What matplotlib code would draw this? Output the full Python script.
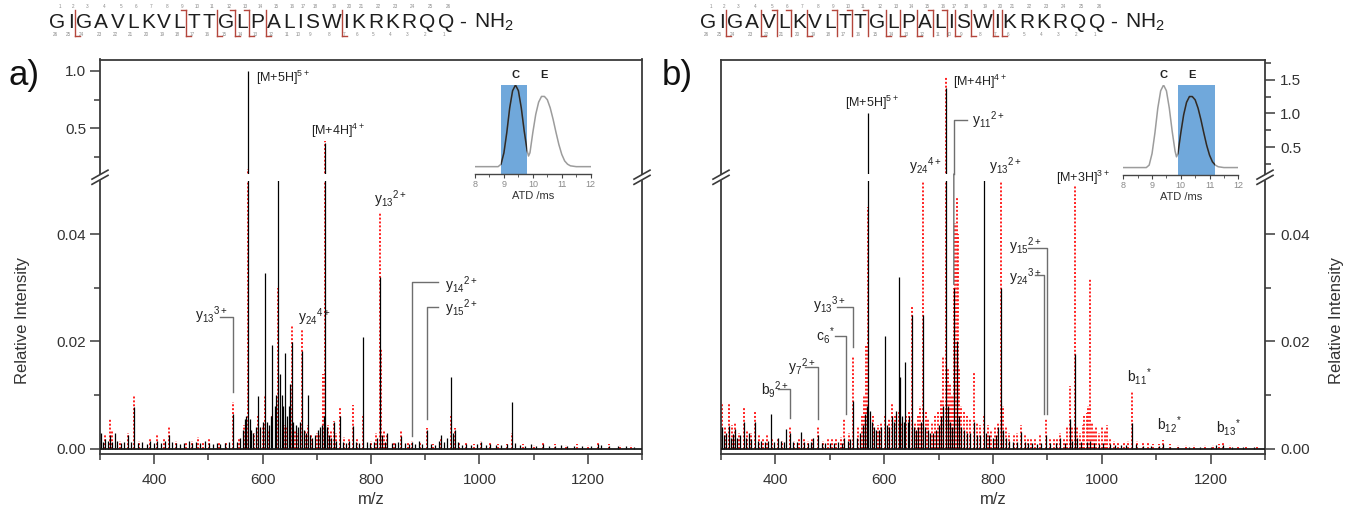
import matplotlib
matplotlib.use("Agg")
import matplotlib.pyplot as plt
from matplotlib.lines import Line2D
from matplotlib.patches import ConnectionPatch
from matplotlib.ticker import FixedLocator, FormatStrFormatter

plt.rcParams['font.family'] = ['Liberation Sans', 'DejaVu Sans']
plt.rcParams['mathtext.fontset'] = 'custom'
plt.rcParams['mathtext.rm'] = 'Liberation Sans'
plt.rcParams['mathtext.it'] = 'Liberation Sans:italic'
plt.rcParams['mathtext.bf'] = 'Liberation Sans:bold'

# ---------------------------------------------------------------- data
sequence = "GIGAVLKVLTTGLPALISWIKRKRQQ"
# cleavage sites (residues N-terminal of the cut) and fragment side
cuts_a = [(2, 'C'), (9, 'NC'), (11, 'C'), (12, 'NC'), (13, 'NC'), (14, 'C'), (19, 'C')]
cuts_b = [(2, 'C'), (4, 'C'), (5, 'N'), (6, 'N'), (7, 'C'), (9, 'N'), (10, 'N'),
          (11, 'N'), (12, 'C'), (13, 'C'), (14, 'C'), (15, 'N'), (16, 'N'),
          (17, 'C'), (18, 'C'), (19, 'C'), (20, 'C')]

# panel a: compact-conformer spectrum (black) and reference (red)
a_black_mz = [302, 306, 310, 315, 318, 322, 327, 332, 338, 344, 352, 357, 363, 370, 378,
              386, 393, 400, 406, 412, 420, 427, 433, 440, 447, 455, 464, 470, 478, 485,
              493, 501, 508, 515, 522, 530, 538, 545, 552, 558, 563, 567, 570, 573, 576,
              579, 583, 587, 592, 596, 600, 604, 608, 612, 615, 618, 622, 625, 629, 632,
              635, 638, 642, 645, 648, 651, 653.5, 657, 661, 665, 669, 673, 677, 680, 684,
              688, 692, 697, 702, 706, 710, 713, 715.5, 718, 722, 727, 731, 736, 742, 748,
              754, 760, 766, 772, 778, 786, 792, 798, 805, 811, 816, 820, 825, 830, 838,
              845, 850, 856, 862, 870, 875.5, 882, 888, 895, 903, 910, 918, 925, 929, 935,
              941, 947, 952, 955, 960, 968, 975, 985, 995, 1003, 1012, 1020, 1030, 1040,
              1050, 1061, 1066, 1075, 1085, 1095, 1105, 1117, 1128, 1140, 1150, 1162, 1175,
              1190, 1205, 1218, 1225, 1240, 1255, 1270, 1285]
a_black_int = [0.0030, 0.0012, 0.0018, 0.0015, 0.0025, 0.0012, 0.0030, 0.0014, 0.0010, 0.0012,
               0.0025, 0.0012, 0.0077, 0.0010, 0.0012, 0.0008, 0.0015, 0.0010, 0.0014, 0.0010,
               0.0014, 0.0025, 0.0012, 0.0010, 0.0008, 0.0010, 0.0015, 0.0010, 0.0012, 0.0010,
               0.0014, 0.0010, 0.0008, 0.0010, 0.0008, 0.0010, 0.0012, 0.0065, 0.0012, 0.0020,
               0.0035, 0.0055, 0.0060, 1.0, 0.0055, 0.0035, 0.0030, 0.0040, 0.0099, 0.0040,
               0.0050, 0.0328, 0.0050, 0.0045, 0.0060, 0.0193, 0.0080, 0.0100, 0.070, 0.0140,
               0.0100, 0.0080, 0.0178, 0.0060, 0.0080, 0.0120, 0.0199, 0.0050, 0.0045, 0.0040,
               0.0050, 0.0183, 0.0035, 0.0030, 0.0101, 0.0025, 0.0020, 0.0025, 0.0035, 0.0040,
               0.0045, 0.0060, 0.37, 0.0040, 0.0025, 0.0020, 0.0049, 0.0015, 0.0060, 0.0012,
               0.0010, 0.0015, 0.0043, 0.0012, 0.0010, 0.0208, 0.0012, 0.0010, 0.0012, 0.0020,
               0.0321, 0.0025, 0.0012, 0.0030, 0.0010, 0.0010, 0.0012, 0.0024, 0.0010, 0.0008,
               0.0012, 0.0008, 0.0015, 0.0008, 0.0034, 0.0008, 0.0006, 0.0015, 0.0025, 0.0012,
               0.0020, 0.0133, 0.0030, 0.0034, 0.0012, 0.0006, 0.0008, 0.0006, 0.0008, 0.0012,
               0.0006, 0.0008, 0.0006, 0.0006, 0.0008, 0.0087, 0.0010, 0.0006, 0.0005, 0.0008,
               0.0005, 0.0008, 0.0005, 0.0005, 0.0006, 0.0005, 0.0005, 0.0005, 0.0005, 0.0008,
               0.0006, 0.0005, 0.0005, 0.0005, 0.0004]
a_red_mz = [302, 310, 318.6, 322, 336, 352, 363, 372, 393, 405, 418, 427, 441, 458, 470, 480,
            490, 501, 520, 533, 545, 556, 565, 573, 585, 592, 600, 604, 612, 618, 625, 629,
            640, 645, 653.5, 660, 665, 673, 679, 684, 690, 700, 706, 712, 715.5, 720, 727,
            731, 736, 742, 750, 760, 766, 774, 786, 800, 810, 816, 819, 824, 830, 842, 856,
            868, 875.5, 890, 903, 915, 929, 947, 955, 962, 975, 990, 1003, 1020, 1035, 1050,
            1061, 1080, 1100, 1117, 1140, 1160, 1180, 1200, 1218, 1240, 1260, 1280]
a_red_int = [0.0015, 0.0028, 0.0056, 0.0035, 0.0015, 0.0030, 0.0099, 0.0015, 0.0020, 0.0025,
             0.0018, 0.0040, 0.0015, 0.0012, 0.0015, 0.0022, 0.0012, 0.0020, 0.0010, 0.0012,
             0.0087, 0.0020, 0.0045, 0.14, 0.0030, 0.0060, 0.0040, 0.0100, 0.0035, 0.0060,
             0.0050, 0.0300, 0.0045, 0.0040, 0.0230, 0.0035, 0.0030, 0.0224, 0.0035, 0.0045,
             0.0025, 0.0030, 0.0025, 0.0140, 0.39, 0.0045, 0.0035, 0.0052, 0.0030, 0.0077,
             0.0022, 0.0020, 0.0081, 0.0020, 0.0060, 0.0015, 0.0030, 0.0439, 0.0185, 0.0035,
             0.0025, 0.0012, 0.0034, 0.0010, 0.0015, 0.0010, 0.0039, 0.0008, 0.0020, 0.0060,
             0.0038, 0.0012, 0.0010, 0.0008, 0.0015, 0.0010, 0.0008, 0.0008, 0.0030, 0.0008,
             0.0006, 0.0010, 0.0008, 0.0006, 0.0008, 0.0006, 0.0010, 0.0008, 0.0006, 0.0006]

# panel b: extended-conformer spectrum (black) and reference (red)
b_black_mz = [302, 306, 310, 314, 318, 322, 326, 330, 335, 341.6, 346, 351, 356, 363, 368,
              374, 380, 386, 391, 397, 404, 410, 415, 420, 426, 432, 440, 447, 453, 460,
              465, 470, 478, 485, 492, 500, 508, 515, 522, 527, 533, 538, 543, 550, 556,
              561, 565, 568, 571, 574, 577, 581, 585, 590, 595, 601, 605, 609, 614, 618,
              622, 626.5, 629, 633, 636, 639, 643, 646, 651, 655, 659, 663, 667, 671, 675,
              680, 685, 690, 695, 700, 705, 709, 713, 717, 721, 725, 728, 733, 737, 742,
              747, 752, 758, 765, 770, 776, 783, 788, 793, 800, 806, 810, 814, 818, 823,
              830, 837, 845, 851, 858, 865, 872, 880, 888, 897, 905, 915, 924, 932, 941,
              945, 950, 955, 962, 972, 978, 985, 995, 1003, 1015, 1025, 1035, 1045, 1055,
              1062, 1075, 1090, 1105, 1112.6, 1125, 1140, 1160, 1180, 1200, 1210, 1222,
              1240, 1260, 1280]
b_black_int = [0.0040, 0.0025, 0.0030, 0.0042, 0.0020, 0.0028, 0.0036, 0.0020, 0.0025, 0.0049,
               0.0020, 0.0030, 0.0018, 0.0049, 0.0015, 0.0015, 0.0012, 0.0015, 0.0064, 0.0012,
               0.0020, 0.0015, 0.0012, 0.0037, 0.0030, 0.0012, 0.0012, 0.0032, 0.0012, 0.0010,
               0.0012, 0.0020, 0.0025, 0.0010, 0.0010, 0.0010, 0.0010, 0.0012, 0.0010, 0.0020,
               0.0015, 0.0018, 0.0089, 0.0020, 0.0030, 0.0045, 0.0065, 0.0080, 1.0, 0.0070,
               0.0050, 0.0040, 0.0035, 0.0035, 0.0040, 0.0211, 0.0045, 0.0040, 0.0060, 0.0050,
               0.0070, 0.0321, 0.0133, 0.0060, 0.0050, 0.0161, 0.0050, 0.0060, 0.0250, 0.0040,
               0.0035, 0.0040, 0.0050, 0.0250, 0.0040, 0.0035, 0.0030, 0.0030, 0.0035, 0.0045,
               0.0060, 0.0080, 1.37, 0.0080, 0.0050, 0.0040, 0.0300, 0.0200, 0.0060, 0.0040,
               0.0035, 0.0030, 0.0030, 0.0050, 0.0025, 0.0025, 0.065, 0.0030, 0.0025, 0.0020,
               0.0025, 0.0040, 0.0300, 0.0035, 0.0020, 0.0015, 0.0012, 0.0012, 0.0031, 0.0012,
               0.0010, 0.0010, 0.0008, 0.0010, 0.0025, 0.0010, 0.0010, 0.0020, 0.0010, 0.0055,
               0.0015, 0.0177, 0.0020, 0.0012, 0.0012, 0.0015, 0.0010, 0.0008, 0.0010, 0.0008,
               0.0006, 0.0006, 0.0006, 0.0048, 0.0008, 0.0005, 0.0005, 0.0005, 0.0008, 0.0004,
               0.0004, 0.0004, 0.0004, 0.0004, 0.0006, 0.0006, 0.0004, 0.0004, 0.0004]
b_red_mz = [302, 308, 314, 320, 326, 333, 341.6, 347, 355, 363, 370, 378, 385, 393, 404, 413,
            426, 435, 443, 452, 460, 468, 478, 488, 497, 504, 512, 520, 527, 535, 543, 552,
            559, 563, 567, 571, 580, 588, 595, 601, 608, 614, 620, 626.5, 633, 640, 646, 651,
            657, 662, 666, 671, 676, 681, 687, 693, 699, 705, 709, 713, 717, 721, 725, 728,
            731, 733, 735, 738, 742, 747, 752, 757, 765, 770, 776, 783, 790, 797, 804, 810,
            814, 818, 824, 830, 838, 845, 851, 858, 865, 870, 878, 886, 897, 904, 912, 918,
            924, 930, 936, 941, 945, 950, 955, 960, 965, 968, 972, 975, 978, 982, 986, 990,
            995, 1000, 1005, 1010, 1015, 1022, 1030, 1040, 1048, 1055, 1065, 1075, 1085, 1095,
            1105, 1112.6, 1125, 1140, 1155, 1170, 1190, 1205, 1215, 1222, 1235, 1250, 1265,
            1285]
b_red_int = [0.0083, 0.0040, 0.0083, 0.0045, 0.0050, 0.0030, 0.0075, 0.0035, 0.0030, 0.0068,
             0.0025, 0.0020, 0.0025, 0.0020, 0.0020, 0.0015, 0.0043, 0.0015, 0.0020, 0.0018,
             0.0015, 0.0020, 0.0043, 0.0015, 0.0018, 0.0020, 0.0018, 0.0022, 0.0057, 0.0030,
             0.0173, 0.0040, 0.0060, 0.0100, 0.0192, 0.0450, 0.0060, 0.0045, 0.0050, 0.0060,
             0.0055, 0.0083, 0.0060, 0.0070, 0.0050, 0.0060, 0.0070, 0.0264, 0.0050, 0.0060,
             0.0080, 0.062, 0.0070, 0.0055, 0.0050, 0.0060, 0.0070, 0.0090, 0.0170, 1.56,
             0.0150, 0.0120, 0.0100, 0.0300, 0.0420, 0.0470, 0.0400, 0.0150, 0.0080, 0.0070,
             0.0060, 0.0055, 0.0142, 0.0050, 0.0045, 0.0060, 0.0045, 0.0035, 0.0040, 0.0050,
             0.065, 0.0080, 0.0040, 0.0030, 0.0025, 0.0030, 0.0045, 0.0025, 0.0020, 0.0020,
             0.0020, 0.0025, 0.0058, 0.0020, 0.0018, 0.0020, 0.0030, 0.0020, 0.0040, 0.0117,
             0.0040, 0.049, 0.0040, 0.0030, 0.0045, 0.0060, 0.0066, 0.0080, 0.0317, 0.0050,
             0.0035, 0.0040, 0.0030, 0.0040, 0.0035, 0.0045, 0.0020, 0.0015, 0.0012, 0.0012,
             0.0015, 0.0105, 0.0015, 0.0010, 0.0010, 0.0008, 0.0008, 0.0017, 0.0008, 0.0006,
             0.0006, 0.0006, 0.0006, 0.0006, 0.0008, 0.0010, 0.0006, 0.0005, 0.0005, 0.0005]

# arrival-time distribution (normalised)
atd_time = [8.0, 8.5, 8.8, 8.9, 9.0, 9.1, 9.2, 9.3, 9.4, 9.5, 9.6, 9.7, 9.8, 9.85, 9.9,
            10.0, 10.1, 10.2, 10.3, 10.4, 10.5, 10.6, 10.7, 10.8, 10.9, 11.0, 11.1, 11.2,
            11.3, 11.5, 12.0]
atd_signal = [0.0, 0.0, 0.0, 0.03, 0.17, 0.42, 0.72, 0.93, 1.0, 0.93, 0.72, 0.44, 0.2, 0.13,
              0.17, 0.42, 0.64, 0.79, 0.86, 0.86, 0.82, 0.72, 0.58, 0.42, 0.27, 0.15, 0.07,
              0.03, 0.01, 0.0, 0.0]
gate_a = (8.9, 9.8)
gate_b = (9.9, 11.2)

# ---------------------------------------------------------------- figure
W, H = 1348, 512
fig = plt.figure(figsize=(W / 100, H / 100), dpi=100)
fig.patch.set_facecolor('white')

RED = '#ff1f1f'
BRK = '#b4463c'
GUIDE = '#6e6e6e'


def box(l, t, r, b):
    return [l / W, 1 - b / H, (r - l) / W, (b - t) / H]


def px_line(xs, ys, **kw):
    fig.add_artist(Line2D([x / W for x in xs], [1 - y / H for y in ys],
                          transform=fig.transFigure, **kw))


def style_axes(ax, part, side):
    ax.set_xlim(300, 1300)
    ax.patch.set_alpha(0)
    for s in ax.spines.values():
        s.set_color('#3a3a3a')
        s.set_linewidth(1.3)
    ax.tick_params(which='both', direction='out', colors='#3a3a3a', width=1.1,
                   labelsize=11, labelcolor='#333333')
    ax.tick_params(which='major', length=7, pad=3)
    ax.tick_params(which='minor', length=4)
    if part == 'top':
        ax.spines['bottom'].set_visible(False)
        ax.tick_params(axis='x', which='both', bottom=False, labelbottom=False)
    else:
        ax.spines['top'].set_visible(False)
        ax.xaxis.set_major_locator(FixedLocator([400, 600, 800, 1000, 1200]))
        ax.xaxis.set_minor_locator(FixedLocator([300, 500, 700, 900, 1100, 1300]))
        ax.tick_params(axis='x', which='major', pad=7)
    if side == 'right':
        ax.yaxis.tick_right()
        ax.tick_params(axis='y', which='both', left=False, labelleft=False,
                       right=True, labelright=True)
        ax.tick_params(axis='y', which='major', pad=4)
    else:
        ax.tick_params(axis='y', which='both', right=False)


def draw_spectrum(ax, kmz, kint, rmz, rint):
    ax.vlines(rmz, 0, rint, colors=RED, linestyles=(0, (1, 1)), linewidth=1.4, zorder=2)
    ax.vlines(kmz, 0, kint, colors='black', linewidth=0.9, zorder=3)


def label(ax, x, y, s, ha='left', size=9):
    ax.text(x, y, s, ha=ha, va='center', fontsize=size, color='#222222', clip_on=False,
            zorder=5)


def guide(ax, xs, ys):
    ax.plot(xs, ys, color=GUIDE, lw=1.0, zorder=4, clip_on=False)


def panel(l, r, kmz, kint, rmz, rint, top_max, side):
    top = fig.add_axes(box(l, 59.5, r, 174))
    bot = fig.add_axes(box(l, 180.5, r, 453.5))
    for ax in (top, bot):
        draw_spectrum(ax, kmz, kint, rmz, rint)
    top.set_ylim(0.1, top_max)
    bot.set_ylim(-0.0009, 0.05)
    style_axes(top, 'top', side)
    style_axes(bot, 'bottom', side)
    top.yaxis.set_major_locator(FixedLocator([0.5, 1.0, 1.5]))
    top.yaxis.set_minor_locator(FixedLocator([0.25, 0.75, 1.25, 1.75]))
    top.yaxis.set_major_formatter(FormatStrFormatter('%.1f'))
    bot.yaxis.set_major_locator(FixedLocator([0.0, 0.02, 0.04]))
    bot.yaxis.set_minor_locator(FixedLocator([0.01, 0.03]))
    bot.yaxis.set_major_formatter(FormatStrFormatter('%.2f'))
    bot.axhline(0, color='#1a1a1a', lw=1.3, zorder=4)
    # axis-break marks on both vertical spines
    ymid = (174 + 180.5) / 2
    for x in (l, r):
        for dy in (-2.6, 2.6):
            px_line([x - 8, x + 8], [ymid + dy + 4.5, ymid + dy - 4.5], color='#3a3a3a', lw=1.2)
    return top, bot


def atd_inset(l, r, t, b, gate):
    ax = fig.add_axes(box(l, t, r, b))
    ax.patch.set_alpha(0)
    ax.set_xlim(8, 12)
    ax.set_ylim(-0.09, 1.0)
    span = ax.axvspan(gate[0], gate[1], color='#70a8db', lw=0, zorder=1)
    ax.plot(atd_time, atd_signal, color='#9c9c9c', lw=1.1, zorder=2)
    dark, = ax.plot(atd_time, atd_signal, color='#2a2a2a', lw=1.1, zorder=3)
    dark.set_clip_path(span)
    for s in ('left', 'right', 'top'):
        ax.spines[s].set_visible(False)
    ax.spines['bottom'].set_color('#444444')
    ax.spines['bottom'].set_linewidth(1.0)
    ax.set_yticks([])
    ax.xaxis.set_major_locator(FixedLocator([8, 9, 10, 11, 12]))
    ax.xaxis.set_minor_locator(FixedLocator([8.5, 9.5, 10.5, 11.5]))
    ax.tick_params(axis='x', which='both', direction='out', colors='#444444',
                   labelsize=6.5, labelcolor='#8a8a8a', pad=1)
    ax.tick_params(axis='x', which='major', length=3)
    ax.tick_params(axis='x', which='minor', length=2)
    ax.set_xlabel('ATD /ms', fontsize=8, color='#333333', labelpad=2)
    ax.text(9.4, 1.06, 'C', ha='center', va='bottom', fontsize=8, fontweight='bold',
            color='#222222', clip_on=False)
    ax.text(10.4, 1.06, 'E', ha='center', va='bottom', fontsize=8, fontweight='bold',
            color='#222222', clip_on=False)


adv = {'G': .778, 'I': .278, 'A': .667, 'V': .667, 'L': .556, 'K': .667, 'T': .611,
       'P': .667, 'S': .667, 'W': .944, 'R': .722, 'Q': .778}


def draw_sequence(x0, cuts):
    fs = 15
    fs_px = fs * 100 / 72
    gap = 2.4
    x = x0
    edges = []
    for ch in sequence:
        w = adv[ch] * fs_px
        edges.append((x, x + w))
        x += w + gap
    n = len(sequence)
    for i, ch in enumerate(sequence):
        c = (edges[i][0] + edges[i][1]) / 2
        fig.text(c / W, 1 - 28 / H, ch, ha='center', va='baseline', fontsize=fs,
                 color='#1e1e1e')
        fig.text((c + 3) / W, 1 - 7 / H, str(i + 1), ha='center', va='center',
                 fontsize=3.3, color='#8a8a8a')
        fig.text((c - 2) / W, 1 - 35 / H, str(n - i), ha='center', va='center',
                 fontsize=3.3, color='#8a8a8a')
    end = edges[-1][1]
    fig.text((end + 9) / W, 1 - 28 / H, '-', ha='center', va='baseline', fontsize=fs,
             color='#1e1e1e')
    fig.text((end + 20) / W, 1 - 28 / H, r'$\mathregular{NH_2}$', ha='left',
             va='baseline', fontsize=fs, color='#1e1e1e')
    for k, kind in cuts:
        xb = (edges[k - 1][1] + edges[k][0]) / 2
        px_line([xb, xb], [10, 36], color=BRK, lw=1.0)
        if 'N' in kind:
            px_line([xb - 5, xb], [10, 10], color=BRK, lw=1.0)
        if 'C' in kind:
            px_line([xb, xb + 5], [36, 36], color=BRK, lw=1.0)


# ---------------------------------------------------------------- panel a
draw_sequence(49, cuts_a)
a_top, a_bot = panel(100, 642, a_black_mz, a_black_int, a_red_mz, a_red_int, 1.1, 'left')
atd_inset(475, 590.7, 85, 174, gate_a)

label(a_top, 588, 0.94, r'$\mathregular{[M{+}5H]^{5+}}$')
label(a_top, 690, 0.48, r'$\mathregular{[M{+}4H]^{4+}}$')
label(a_bot, 806, 0.0465, r'$\mathregular{y_{13}{}^{2+}}$', size=10)
label(a_bot, 476, 0.0249, r'$\mathregular{y_{13}{}^{3+}}$', size=10)
guide(a_bot, [521, 545, 545], [0.0245, 0.0245, 0.0105])
label(a_bot, 666, 0.0245, r'$\mathregular{y_{24}{}^{4+}}$', size=10)
label(a_bot, 937, 0.0305, r'$\mathregular{y_{14}{}^{2+}}$', size=10)
guide(a_bot, [923, 875, 875], [0.0311, 0.0311, 0.0024])
label(a_bot, 937, 0.0262, r'$\mathregular{y_{15}{}^{2+}}$', size=10)
guide(a_bot, [923, 903, 903], [0.0265, 0.0265, 0.0056])

fig.text(22 / W, 1 - 320 / H, 'Relative Intensity', rotation=90, ha='center',
         va='center', fontsize=12, color='#333333')
fig.text(371 / W, 1 - 500 / H, 'm/z', ha='center', va='center', fontsize=12,
         color='#333333')
fig.text(8 / W, 1 - 76 / H, 'a)', ha='left', va='center', fontsize=25, color='#111111')

# ---------------------------------------------------------------- panel b
draw_sequence(700, cuts_b)
b_top, b_bot = panel(721, 1265, b_black_mz, b_black_int, b_red_mz, b_red_int, 1.8, 'right')
atd_inset(1123.3, 1238.3, 85, 175, gate_b)

label(b_top, 578, 1.158, r'$\mathregular{[M{+}5H]^{5+}}$', ha='center')
label(b_top, 727, 1.465, r'$\mathregular{[M{+}4H]^{4+}}$')
label(b_top, 762, 0.895, r'$\mathregular{y_{11}{}^{2+}}$', size=10)
guide(b_top, [752, 728, 728], [0.905, 0.905, 0.1])
fig.add_artist(ConnectionPatch(xyA=(728, 0.1), coordsA=b_top.transData,
                               xyB=(728, 0.0306), coordsB=b_bot.transData,
                               color=GUIDE, lw=1.0))
label(b_top, 676, 0.218, r'$\mathregular{y_{24}{}^{4+}}$', ha='center', size=10)
label(b_top, 823, 0.218, r'$\mathregular{y_{13}{}^{2+}}$', ha='center', size=10)
label(b_bot, 915, 0.0505, r'$\mathregular{[M{+}3H]^{3+}}$')
label(b_bot, 830, 0.0378, r'$\mathregular{y_{15}{}^{2+}}$', size=10)
guide(b_bot, [864, 899, 899], [0.0374, 0.0374, 0.0064])
label(b_bot, 830, 0.0319, r'$\mathregular{y_{24}{}^{3+}}$', size=10)
guide(b_bot, [878, 894, 894], [0.0324, 0.0324, 0.0064])
label(b_bot, 469, 0.0268, r'$\mathregular{y_{13}{}^{3+}}$', size=10)
guide(b_bot, [513, 543, 543], [0.0265, 0.0265, 0.0189])
label(b_bot, 475, 0.0211, r'$\mathregular{c_{6}{}^{*}}$', size=10)
guide(b_bot, [510, 529, 529], [0.0211, 0.0211, 0.0065])
label(b_bot, 424, 0.0151, r'$\mathregular{y_{7}{}^{2+}}$', size=10)
guide(b_bot, [455, 478, 478], [0.0153, 0.0153, 0.0055])
label(b_bot, 374, 0.0110, r'$\mathregular{b_{9}{}^{2+}}$', size=10)
guide(b_bot, [404, 427, 427], [0.0112, 0.0112, 0.0058])
label(b_bot, 1047, 0.0135, r'$\mathregular{b_{11}{}^{*}}$', size=10)
label(b_bot, 1101, 0.0045, r'$\mathregular{b_{12}{}^{*}}$', size=10)
label(b_bot, 1210, 0.0039, r'$\mathregular{b_{13}{}^{*}}$', size=10)

fig.text(1337 / W, 1 - 320 / H, 'Relative Intensity', rotation=90, ha='center',
         va='center', fontsize=12, color='#333333')
fig.text(993 / W, 1 - 500 / H, 'm/z', ha='center', va='center', fontsize=12,
         color='#333333')
fig.text(662 / W, 1 - 76 / H, 'b)', ha='left', va='center', fontsize=25, color='#111111')

fig.savefig('out.png', dpi=100, facecolor='white')
